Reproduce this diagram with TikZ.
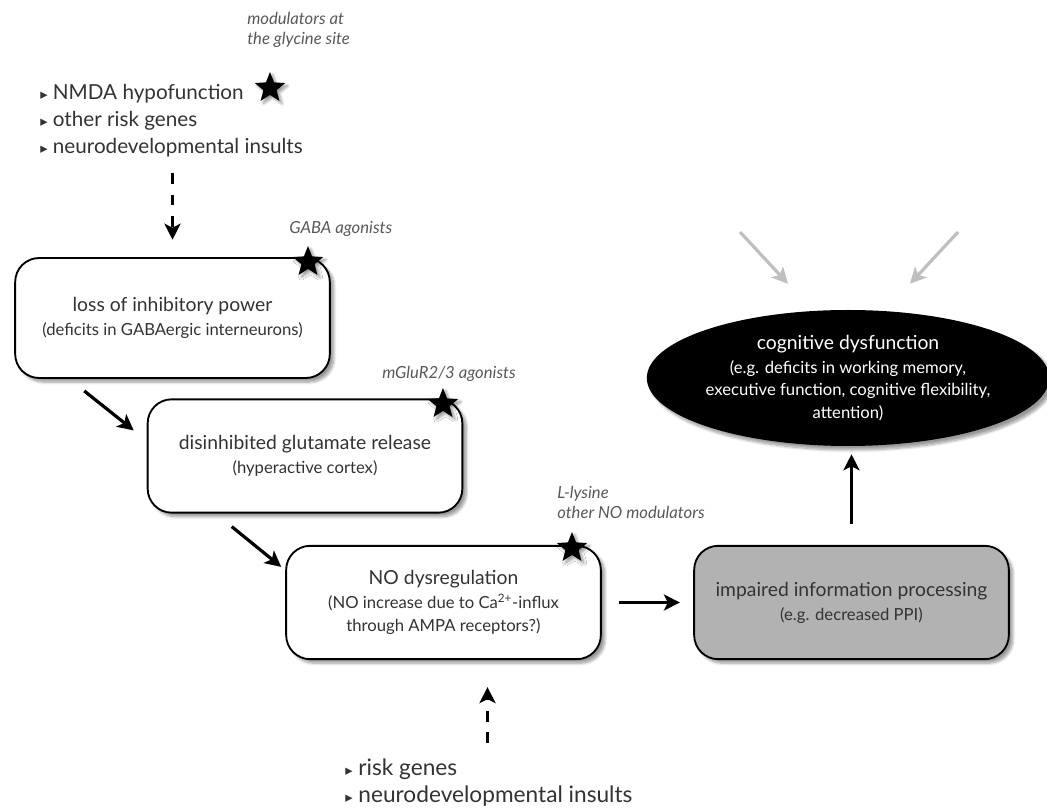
\documentclass[tikz,border=0pt]{standalone}
\usepackage{fontspec}
\setmainfont{Lato}
\newfontfamily\symfont{DejaVu Sans}
\usetikzlibrary{shapes.geometric,shadows.blur,arrows.meta}
\newcommand{\tri}{{\symfont\fontsize{11}{11}\selectfont ▸}\ }
\newcommand{\listtxt}{\fontsize{15.5}{20.25}\selectfont}
\newcommand{\maintxt}{\fontsize{14.5}{20}\selectfont}
\newcommand{\subtxt}{\fontsize{12.5}{17}\selectfont}
\newcommand{\drugtxt}{\fontsize{12.5}{15}\selectfont\itshape}

\begin{document}
\begin{tikzpicture}[x=0.75pt, y=-0.75pt, >={Stealth[length=12pt,width=12pt,inset=3pt]},
  box/.style={draw, line width=1.4pt, rounded corners=18pt, fill=white,
    minimum width=236pt, minimum height=85pt, align=center, text=black!80, font=\subtxt,
    blur shadow={shadow xshift=3pt, shadow yshift=-3pt, shadow blur steps=8}},
  drugstar/.style={star, star points=5, star point ratio=2.3, fill=black,
    minimum size=24pt, inner sep=0pt,
    blur shadow={shadow xshift=2pt, shadow yshift=-2pt, shadow blur steps=6}},
  arr/.style={->, line width=2.4pt},
  dasharr/.style={->, line width=2.6pt, dash pattern=on 8pt off 8pt},
  grayarr/.style={->, line width=2.4pt, black!25},
  drug/.style={font=\drugtxt, text=black!65, align=left, inner sep=0pt},
  list/.style={text=black!80, align=left, inner sep=0pt}]
  \useasboundingbox (0,0) rectangle (1047,812);

  % causes
  \node[list, font=\listtxt, anchor=north west] (risks) at (40,84)
    {\tri NMDA hypofunction\\ \tri other risk genes\\ \tri neurodevelopmental insults};
  \node[drug, anchor=north west] (glyc) at (247,12) {modulators at\\the glycine site};
  \node[drugstar] (s0) at (270,88) {};

  % boxes
  \node[box, minimum height=90pt] (loss) at (172.5,318)
    {{\maintxt loss of inhibitory power}\\[1pt](deficits in GABAergic interneurons)};
  \node[box] (glut) at (305,456)
    {{\maintxt disinhibited glutamate release}\\[1pt](hyperactive cortex)};
  \node[box] (nodys) at (443.5,602.5)
    {{\maintxt NO dysregulation}\\[1pt](NO increase due to Ca\textsuperscript{2+}-influx\\through AMPA receptors?)};
  \node[box, fill=black!30] (info) at (851.5,602.5)
    {{\maintxt impaired information processing}\\[1pt](e.g. decreased PPI)};
  \node[ellipse, fill=black, text=white, font=\subtxt, minimum width=298pt, minimum height=102pt,
    inner sep=0pt, align=center,
    blur shadow={shadow xshift=3pt, shadow yshift=-3pt, shadow blur steps=8}] (cog) at (848,378)
    {{\maintxt cognitive dysfunction}\\[1pt](e.g. deficits in working memory,\\
     executive function, cognitive flexibility,\\attention)};

  % drug targets
  \node[drugstar] (s1) at (308,262) {};
  \node[drugstar] (s2) at (443,404) {};
  \node[drugstar] (s3) at (572,548) {};
  \node[drug, anchor=west] (gaba) at (289,229) {GABA agonists};
  \node[drug, anchor=west] (mglu) at (382,374) {mGluR2/3 agonists};
  \node[drug, anchor=north west] (lys) at (557,486) {L-lysine\\other NO modulators};

  \node[list, font=\fontsize{17}{20}\selectfont, anchor=north west] (genes) at (345,759)
    {\tri risk genes\\ \tri neurodevelopmental insults};

  % connectors
  \draw[dasharr, shorten <=12pt, shorten >=13pt] (risks.south -| loss.north) -- (loss.north);
  \draw[arr] ([shift={(70,12)}]loss.south west) -- ([shift={(-13,32)}]glut.north west);
  \draw[arr] ([shift={(85,13)}]glut.south west) -- ([shift={(-4,22)}]nodys.north west);
  \draw[arr, shorten <=13pt, shorten >=10pt] (nodys.east) -- (info.west);
  \draw[arr, shorten <=16pt, shorten >=6pt] (info.north) -- (cog.south -| info.north);
  \draw[dasharr] ([shift={(44,83)}]nodys.south) -- ([shift={(44,27)}]nodys.south);
  \coordinate (g1) at (740,232);
  \coordinate (g2) at (958,232);
  \draw[grayarr] (g1) -- ([shift={(-60,-26)}]cog.north);
  \draw[grayarr] (g2) -- ([shift={(62,-26)}]cog.north);
\end{tikzpicture}
\end{document}
